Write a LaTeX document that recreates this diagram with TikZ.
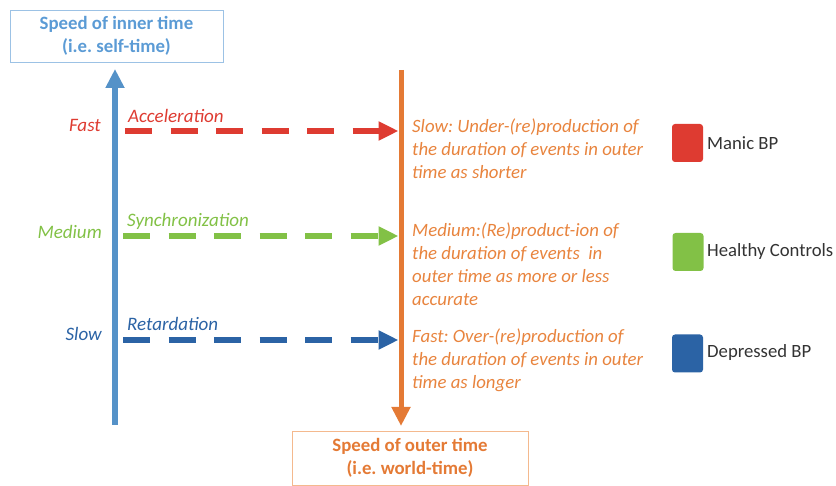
\documentclass[tikz,border=0pt]{standalone}
\usepackage{fontspec}
\setmainfont{Carlito}
\frenchspacing
\usetikzlibrary{arrows.meta}
\definecolor{axisblue}{HTML}{5592C8}
\definecolor{boxblue}{HTML}{9CC2E5}
\definecolor{txtblue}{HTML}{5B9BD5}
\definecolor{cred}{HTML}{DE3B31}
\definecolor{cgreen}{HTML}{82C146}
\definecolor{cdblue}{HTML}{2B63A5}
\definecolor{corange}{HTML}{E47A35}
\definecolor{torange}{HTML}{E8843E}
\definecolor{boxorange}{HTML}{F4B98E}
\tikzset{
  titlebox/.style={draw, line width=0.9pt, minimum width=#1, minimum height=52pt, inner sep=0pt, align=center,
     font=\fontsize{18.8}{23}\selectfont\bfseries},
  axisline/.style={line width=6pt, -{Triangle[length=19pt,width=18pt]}},
  dasharrow/.style={line width=6.5pt, dash pattern=on 27pt off 18.5pt, -{Triangle[length=20pt,width=18pt]}},
  rowlabel/.style={anchor=east, inner sep=0pt, font=\fontsize{19}{22}\selectfont\itshape},
  arrowlabel/.style={anchor=base west, inner sep=0pt, font=\fontsize{19}{22}\selectfont\itshape},
  desc/.style={anchor=north west, inner sep=0pt, align=left, text=torange, font=\fontsize{18.8}{22.9}\selectfont\itshape},
  legendsq/.style={rounded corners=3pt, minimum width=31pt, minimum height=38pt, inner sep=0pt},
  legendtxt/.style={anchor=west, inner sep=0pt, text=black!80, font=\fontsize{18.7}{22}\selectfont},
}
\begin{document}
\begin{tikzpicture}[x=1pt,y=-1pt]
\useasboundingbox (0,0) rectangle (836,486);
% title boxes
\node[titlebox=213pt, draw=boxblue, text=txtblue] (inner) at (116.5,36) {Speed of inner time\\(i.e. self-time)};
\node[titlebox=236pt, draw=boxorange, text=corange, minimum height=54pt] (outer) at (410,458) {Speed of outer time\\(i.e. world-time)};
% axes
\coordinate (ib) at (115,425);
\coordinate (it) at (115,69);
\draw[axisline, axisblue] (ib) -- (it);
\coordinate (ot) at (401,70);
\coordinate (obot) at (401,426);
\draw[axisline, corange, line width=5pt] (ot) -- (obot);
% dashed arrows
\coordinate (fa) at (125,131);  \coordinate (fb) at (398.5,131);
\coordinate (ma) at (123,236);  \coordinate (mb) at (398.5,236);
\coordinate (sa) at (123,340);  \coordinate (sb) at (398.5,340);
\draw[dasharrow, cred] (fa) -- (fb);
\draw[dasharrow, cgreen] (ma) -- (mb);
\draw[dasharrow, cdblue] (sa) -- (sb);
% row labels
\node[rowlabel, text=cred] (lfast) at (101,125) {Fast};
\node[rowlabel, text=cgreen] (lmed) at (102,232) {Medium};
\node[rowlabel, text=cdblue] (lslow) at (102,334) {Slow};
\node[arrowlabel, text=cred] (lacc) at (128,123) {Acceleration};
\node[arrowlabel, text=cgreen] (lsyn) at (127,227) {Synchronization};
\node[arrowlabel, text=cdblue] (lret) at (127,331) {Retardation};
% descriptions
\node[desc] (dslow) at (412,118.5) {Slow: Under-(re)production of\\the duration of events in outer\\time as shorter};
\node[desc] (dmed) at (412,222.5) {Medium:(Re)product-ion of\\the duration of events\ \ in\\outer time as more or less\\accurate};
\node[desc] (dfast) at (412,328.5) {Fast: Over-(re)production of\\the duration of events in outer\\time as longer};
% legend
\node[legendsq, fill=cred] (sqm) at (687.5,143) {};
\node[legendsq, fill=cgreen] (sqh) at (688,252) {};
\node[legendsq, fill=cdblue] (sqd) at (687.5,353.5) {};
\node[legendtxt] (tm) at (707,143) {Manic BP};
\node[legendtxt] (th) at (707,252) {Healthy Controls};
\node[legendtxt] (td) at (707,353) {Depressed BP};
\end{tikzpicture}
\end{document}
